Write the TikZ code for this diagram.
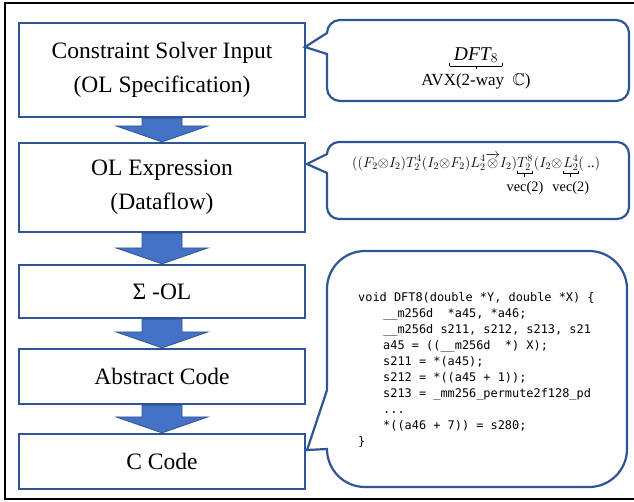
\RequirePackage{fix-cm}
\documentclass[tikz,border=0pt]{standalone}
\usepackage{amsmath,amssymb}
\usepackage{fontspec}
\setmainfont{Liberation Serif}
\newfontfamily\codefont{DejaVu Sans Mono}
\usetikzlibrary{calc,backgrounds}
\definecolor{bord}{HTML}{2F5597}
\definecolor{arrfill}{HTML}{4472C4}
% content with a bracket (and centre tick) below it and a label under that
\newcommand\brkt[3]{%
  \setbox0=\hbox{$#1$}%
  \vtop{\offinterlineskip\hbox{\copy0}\kern0.5pt
    \hbox to\wd0{\kern-#3\hbox to\dimexpr\wd0+#3+#3\relax{%
      \vrule width .7pt height 3pt depth 0pt\leaders\hrule height .7pt depth 0pt\hfill
      \vrule width 1pt height .7pt depth 3pt\leaders\hrule height .7pt depth 0pt\hfill
      \vrule width .7pt height 3pt depth 0pt}\kern-#3}%
    \kern4.5pt
    \hbox to\wd0{\hss #2\hss}}}
\newcommand\flowarrow[2]{%
  \draw[barrow] ($(#1.south)+(-20,0)$) -- ($(#1.south)+(20,0)$)
    -- ($(#2.north)+(20,-16)$) -- ($(#2.north)+(46,-16)$) -- (#2.north)
    -- ($(#2.north)+(-46,-16)$) -- ($(#2.north)+(-20,-16)$) -- cycle;}
\begin{document}
\begin{tikzpicture}[x=1pt,y=-1pt,
  box/.style={draw=bord, line width=2.2, fill=white, minimum width=286,
    inner sep=0, align=center, font=\fontsize{23.5}{34}\selectfont},
  barrow/.style={fill=arrfill, draw=bord, line width=0.8},
  callout/.style={draw=bord, line width=2.2, fill=white},
  code/.style={anchor=base west, inner sep=0, font=\codefont\fontsize{11.9}{14}\selectfont}]
\useasboundingbox (0,0) rectangle (634,501);
\draw[line width=2] (634,3) -- (5,3) -- (5,499) -- (634,499);

% flow boxes
\node[box, minimum height=94] (b1) at (162,70) {Constraint Solver Input\\(OL Specification)};
\node[box, minimum height=89] (b2) at (162,187.5) {OL Expression\\(Dataflow)};
\node[box, minimum height=53] (b3) at (162,291.5) {Σ -OL};
\node[box, minimum height=55] (b4) at (162,376.5) {Abstract Code};
\node[box, minimum height=55] (b5) at (162,461.5) {C Code};

\begin{scope}[on background layer]
\flowarrow{b1}{b2}
\flowarrow{b2}{b3}
\flowarrow{b3}{b4}
\flowarrow{b4}{b5}
\end{scope}

% callout 1
\draw[callout] (327,33) -- (305,47) -- (327,54) -- (327,88)
  .. controls (327,95.2) and (332.8,101) .. (340,101) -- (616,101)
  .. controls (623.2,101) and (629,95.2) .. (629,88) -- (629,33)
  .. controls (629,25.8) and (623.2,20) .. (616,20) -- (340,20)
  .. controls (332.8,20) and (327,25.8) .. (327,33) -- cycle;
\node[anchor=base, inner sep=0, font=\fontsize{17}{20}\selectfont] (spec) at (476,60)
  {$\brkt{\text{\fontsize{19.5}{22}\selectfont$\mathit{DFT}_8$}}{AVX(2-way\ \ $\mathbb{C}$)}{5pt}$};

% callout 2
\draw[callout] (327,154) -- (307,164) -- (327,173) -- (327,207)
  .. controls (327,213.6) and (332.4,219) .. (339,219) -- (617,219)
  .. controls (623.6,219) and (629,213.6) .. (629,207) -- (629,154)
  .. controls (629,147.4) and (623.6,142) .. (617,142) -- (339,142)
  .. controls (332.4,142) and (327,147.4) .. (327,154) -- cycle;
\node[anchor=base west, inner sep=0, font=\fontsize{14.4}{17}\selectfont] (expr) at (352,167)
  {$((F_2{\otimes}I_2)T_2^4(I_2{\otimes}F_2)L_2^4\overrightarrow{\otimes}I_2)\brkt{T_2^8}{vec(2)}{0pt}\kern1pt(I_2{\otimes}\kern1pt\brkt{L_2^4}{vec(2)}{0pt}(\text{ ..})$};

% callout 3
\draw[callout] (327,390) -- (307,450) -- (327,449)
  .. controls (327,470) and (344,487) .. (365,487) -- (589,487)
  .. controls (610,487) and (627,470) .. (627,449) -- (627,289)
  .. controls (627,268) and (610,251) .. (589,251) -- (365,251)
  .. controls (344,251) and (327,268) .. (327,289) -- cycle;
\node[code] (c1) at (358,301) {void DFT8(double *Y, double *X) \{};
\node[code] (c2) at (383,317) {\_\_m256d~~*a45, *a46;};
\node[code] (c3) at (383,333) {\_\_m256d s211, s212, s213, s21};
\node[code] (c4) at (383,349) {a45 = ((\_\_m256d~~*) X);};
\node[code] (c5) at (383,365) {s211 = *(a45);};
\node[code] (c6) at (383,381) {s212 = *((a45 + 1));};
\node[code] (c7) at (383,397) {s213 = \_mm256\_permute2f128\_pd};
\node[code] (c8) at (383,413) {...};
\node[code] (c9) at (383,429) {*((a46 + 7)) = s280;};
\node[code] (c10) at (358,445) {\}};
\end{tikzpicture}
\end{document}
